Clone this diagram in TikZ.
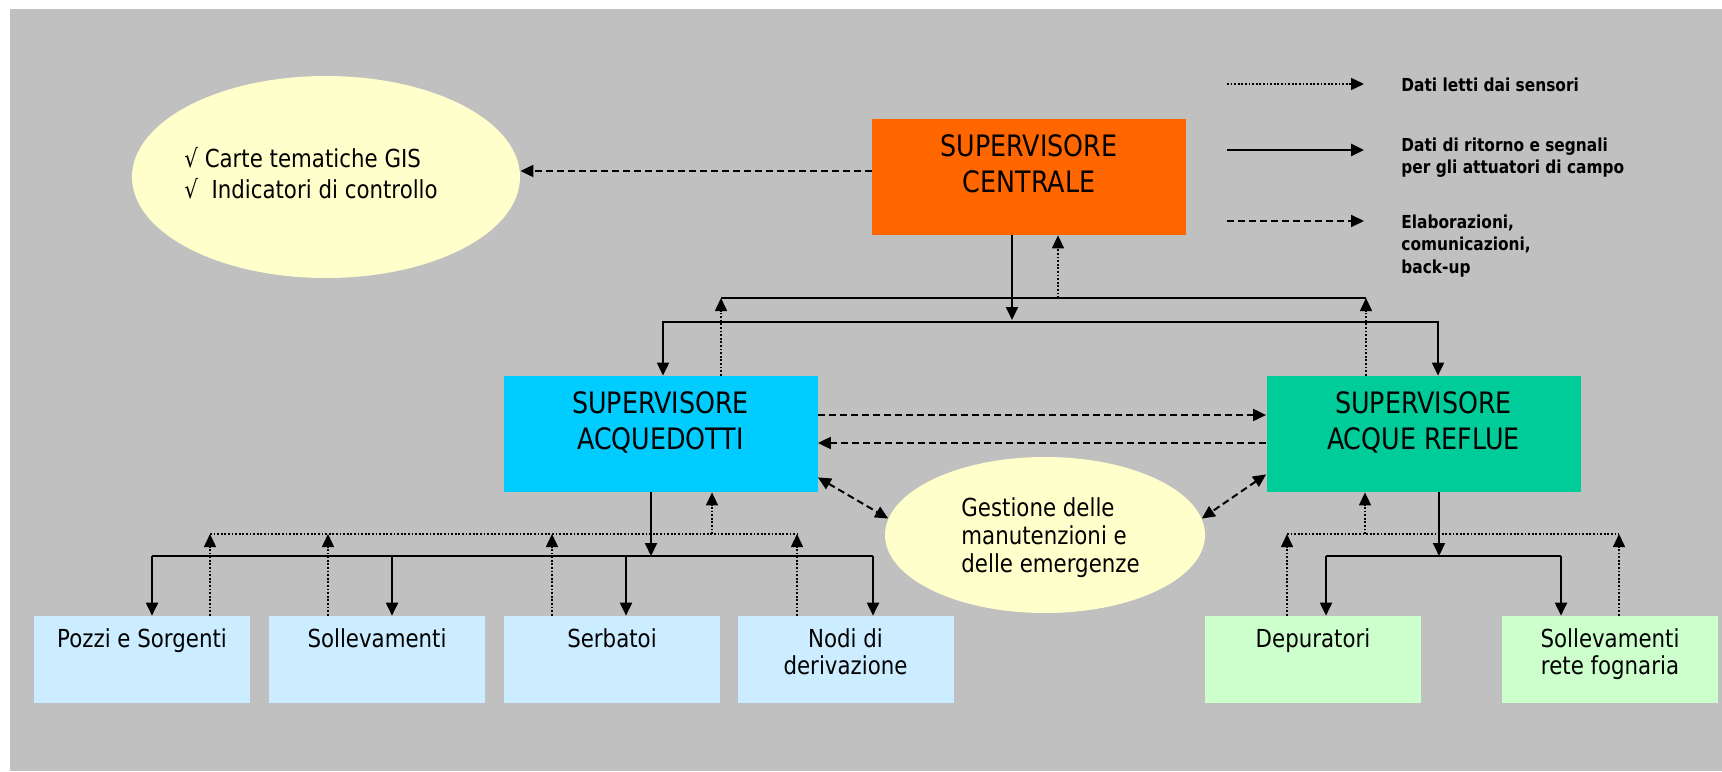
\documentclass[tikz,border=0pt]{standalone}
\usepackage{fontspec}
\setmainfont{DejaVu Sans}[FakeStretch=0.86]
\usetikzlibrary{arrows.meta,shapes.geometric}
\definecolor{bggray}{HTML}{C0C0C0}
\definecolor{centrorange}{HTML}{FF6600}
\definecolor{acqcyan}{HTML}{00CCFF}
\definecolor{reflgreen}{HTML}{00CC99}
\definecolor{acqlight}{HTML}{CCECFF}
\definecolor{refllight}{HTML}{CCFFCC}
\definecolor{notecream}{HTML}{FFFFCC}

\begin{document}
\begin{tikzpicture}[x=0.5pt,y=-0.5pt,>={Triangle[length=6.5pt,width=6pt]},
  supbox/.style={rectangle,inner sep=0pt,minimum width=157pt,minimum height=58pt},
  fieldbox/.style={rectangle,inner sep=0pt,minimum width=108pt,minimum height=43.25pt},
  note/.style={ellipse,fill=notecream,inner sep=0pt},
  notetext/.style={anchor=north west,inner sep=0pt,align=left},
  suptext/.style={anchor=north,inner sep=0pt,align=center,font=\fontsize{14.75}{18}\selectfont},
  fieldtext/.style={anchor=north,inner sep=0pt,align=center,font=\fontsize{12.4}{13.65}\selectfont},
  legtext/.style={anchor=north west,inner sep=0pt,align=left,font=\bfseries\fontsize{8.95}{11.15}\selectfont},
  sensorline/.style={line width=0.75pt,dash pattern=on 0.9pt off 0.9pt},
  sensor/.style={sensorline,->},
  cmdline/.style={line width=1pt},
  cmd/.style={cmdline,->},
  proc/.style={->,line width=1pt,dash pattern=on 3.5pt off 2pt}]

  \useasboundingbox (0,0) rectangle (1722,771);
  \fill[white] (0,0) rectangle (1722,771);
  \fill[bggray] (10,9) rectangle (1722,771); % sheet

  % supervisors
  \node[supbox,fill=centrorange] (centrale) at (1029,177) {};
  \node[supbox,fill=acqcyan]     (acq)      at (660.5,434) {};
  \node[supbox,fill=reflgreen]   (reflue)   at (1423.5,434) {};
  \node[suptext] (centraleTxt) at ([yshift=-7.9pt]centrale.north) {SUPERVISORE\\CENTRALE};
  \node[suptext] (acqTxt)      at ([yshift=-7.9pt]acq.north) {SUPERVISORE\\ACQUEDOTTI};
  \node[suptext] (reflueTxt)   at ([yshift=-7.9pt]reflue.north) {SUPERVISORE\\ACQUE REFLUE};

  % field plants
  \node[fieldbox,fill=acqlight]  (pozzi) at (142,659.3) {};
  \node[fieldbox,fill=acqlight]  (soll)  at (377,659.3) {};
  \node[fieldbox,fill=acqlight]  (serb)  at (612,659.3) {};
  \node[fieldbox,fill=acqlight]  (nodi)  at (845.5,659.3) {};
  \node[fieldbox,fill=refllight] (dep)   at (1313,659.3) {};
  \node[fieldbox,fill=refllight] (fogn)  at (1610,659.3) {};
  \node[fieldtext] (pozziTxt) at ([yshift=-6.25pt]pozzi.north) {Pozzi e Sorgenti};
  \node[fieldtext] (sollTxt)  at ([yshift=-6.25pt]soll.north) {Sollevamenti};
  \node[fieldtext] (serbTxt)  at ([yshift=-6.25pt]serb.north) {Serbatoi};
  \node[fieldtext] (nodiTxt)  at ([yshift=-6.25pt]nodi.north) {Nodi di\\derivazione};
  \node[fieldtext] (depTxt)   at ([yshift=-6.25pt]dep.north) {Depuratori};
  \node[fieldtext] (fognTxt)  at ([yshift=-6.25pt]fogn.north) {Sollevamenti\\rete fognaria};

  % notes
  \node[note,minimum width=194pt,minimum height=101pt] (gis) at (326,177) {};
  \node[notetext,font=\fontsize{12.4}{15.5}\selectfont] (gisTxt) at (184,147)
    {√ Carte tematiche GIS\\√\ \ Indicatori di controllo};
  \node[note,minimum width=160pt,minimum height=78pt] (gest) at (1045,535) {};
  \node[notetext,font=\fontsize{12.4}{14.15}\selectfont] (gestTxt) at (961,497)
    {Gestione delle\\manutenzioni e\\delle emergenze};

  % legend
  \node[legtext] (legSens) at (1401,77) {Dati letti dai sensori};
  \node[legtext] (legCmd)  at (1401,137) {Dati di ritorno e segnali\\per gli attuatori di campo};
  \node[legtext] (legProc) at (1401,214.4) {Elaborazioni,\\comunicazioni,\\back-up};
  \coordinate (lsA) at (1227,84);  \coordinate (lsB) at (1364,84);
  \coordinate (lcA) at (1227,150); \coordinate (lcB) at (1364,150);
  \coordinate (lpA) at (1227,221); \coordinate (lpB) at (1364,221);
  \draw[sensor] (lsA) -- (lsB);
  \draw[cmd,line width=1.4pt] (lcA) -- (lcB);
  \draw[proc] (lpA) -- (lpB);

  % central level
  \coordinate (upL) at (721,298);  \coordinate (upR) at (1366,298);
  \coordinate (upC) at (1058,298);
  \coordinate (dnL) at (663,322);  \coordinate (dnR) at (1438,322);
  \coordinate (dnC) at (1012,320);
  \draw[cmdline] (upL) -- (upR);
  \draw[sensor] (acq.north -| upL) -- (upL);
  \draw[sensor] (reflue.north -| upR) -- (upR);
  \draw[sensor] (upC) -- (centrale.south -| upC);
  \draw[cmd] (centrale.south -| dnC) -- (dnC);
  \draw[cmdline,<->] (acq.north -| dnL) -- (dnL) -- (dnR) -- (reflue.north -| dnR);
  \draw[proc] ([yshift=3pt]centrale.west) -- ([yshift=3pt]gis.east);

  % between supervisors
  \draw[proc] ([yshift=9.5pt]acq.east) -- ([yshift=9.5pt]reflue.west);
  \draw[proc] ([yshift=-4.5pt]reflue.west) -- ([yshift=-4.5pt]acq.east);
  \draw[proc,<->] ([yshift=7.5pt]acq.south east) -- (gest.174);
  \draw[proc,<->] ([yshift=9pt]reflue.south west) -- (gest.6);

  % field level
  \foreach \fb/\fx in {pozzi/152,soll/392,serb/626,nodi/873,dep/1326,fogn/1561}{
    \coordinate (cmd-\fb) at (\fx,556);
    \draw[cmd] (cmd-\fb) -- (\fb.north -| cmd-\fb);
  }
  \foreach \fb/\fx in {pozzi/210,soll/328,serb/552,nodi/797,dep/1287,fogn/1619}{
    \coordinate (sens-\fb) at (\fx,534);
    \draw[sensor] (\fb.north -| sens-\fb) -- (sens-\fb);
  }
  \draw[cmdline] (cmd-pozzi) -- (cmd-nodi);
  \draw[cmdline] (cmd-dep) -- (cmd-fogn);
  \draw[sensorline] (sens-pozzi) -- (sens-nodi);
  \draw[sensorline] (sens-dep) -- (sens-fogn);
  \coordinate (aUp) at (712,534);  \coordinate (aDn) at (651,556);
  \coordinate (rUp) at (1365,534); \coordinate (rDn) at (1439,556);
  \draw[sensor] (aUp) -- (acq.south -| aUp);
  \draw[cmd] (acq.south -| aDn) -- (aDn);
  \draw[sensor] (rUp) -- (reflue.south -| rUp);
  \draw[cmd] (reflue.south -| rDn) -- (rDn);
\end{tikzpicture}
\end{document}
